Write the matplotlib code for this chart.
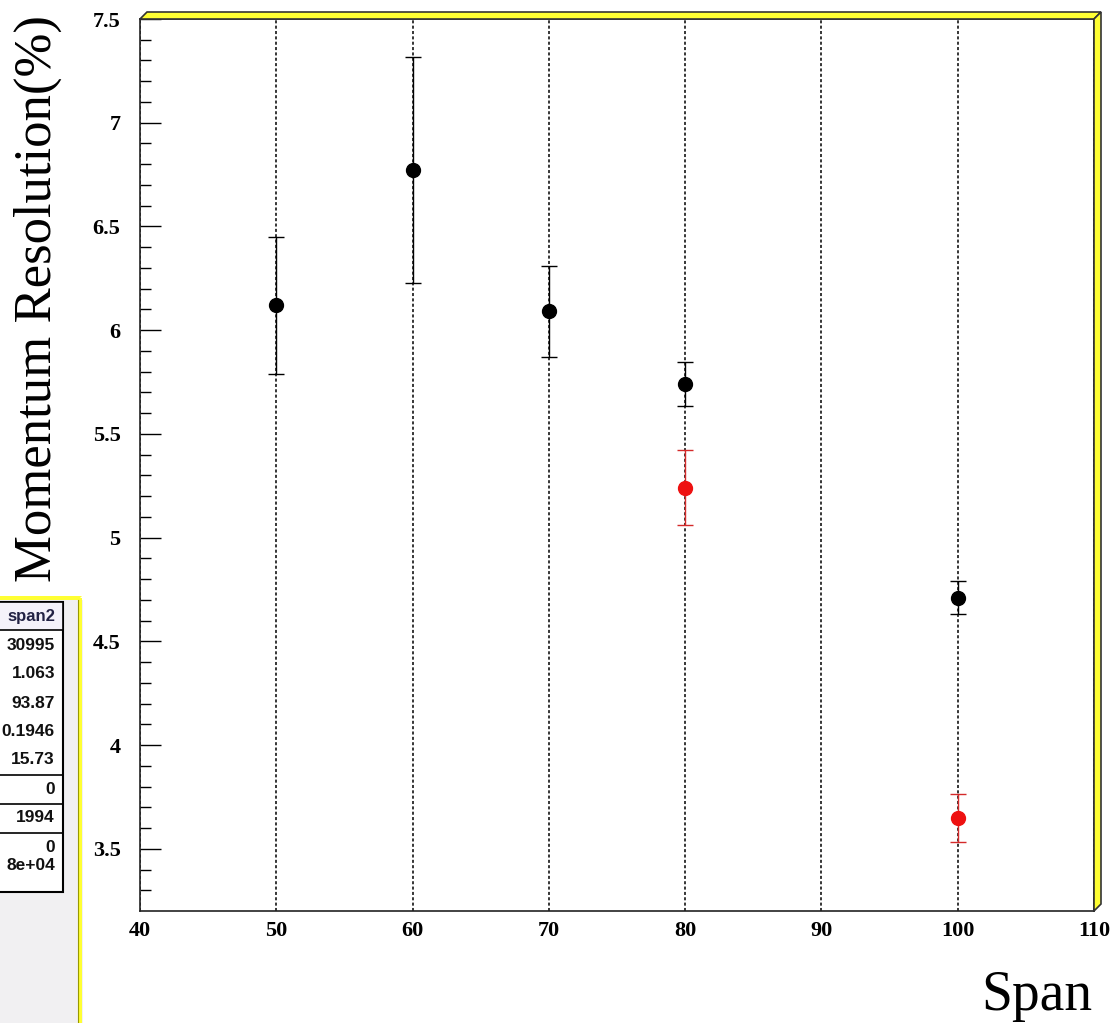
import matplotlib
matplotlib.use('Agg')
import matplotlib.pyplot as plt
from matplotlib.patches import Polygon, Rectangle
from matplotlib.lines import Line2D
import numpy as np

# data
span_black = [50, 60, 70, 80, 100]
res_black = [6.12, 6.77, 6.09, 5.74, 4.71]
err_black = [0.33, 0.545, 0.22, 0.105, 0.08]

span_red = [80, 100]
res_red = [5.24, 3.65]
err_red = [0.18, 0.115]

x_ticks = [40, 50, 60, 70, 80, 90, 100, 110]
y_ticks = [3.5, 4, 4.5, 5, 5.5, 6, 6.5, 7, 7.5]
y_tick_labels = ['3.5', '4', '4.5', '5', '5.5', '6', '6.5', '7', '7.5']

stats_header = 'span2'
stats_values = ['30995', '1.063', '93.87', '0.1946', '15.73', '0', '1994', '0', '8e+04']

W, H = 1115, 1023


def fx(x):
    return x / W


def fy(y):
    return 1 - y / H


fig = plt.figure(figsize=(W / 100, H / 100), dpi=100)
fig.patch.set_facecolor('white')

# frame in pixels
L, R, T, B = 140, 1094, 19, 911
ax = fig.add_axes([fx(L), fy(B), fx(R) - fx(L), fy(T) - fy(B)])
ax.set_xlim(40, 110)
ax.set_ylim(3.2, 7.5)

ax.errorbar(span_black, res_black, yerr=err_black, fmt='o', color='black',
            ms=10, elinewidth=1, capsize=5.5, capthick=1, zorder=5)
ax.errorbar(span_red, res_red, yerr=err_red, fmt='o', color='#e41a1c',
            mfc='#ee1111', mec='#ee1111', ecolor='#d42a2a',
            ms=10, elinewidth=1, capsize=5.5, capthick=1, zorder=5)

ax.set_xticks(x_ticks)
ax.set_yticks(y_ticks)
ax.set_yticklabels(y_tick_labels)
ax.set_yticks(np.arange(3.3, 7.5, 0.1), minor=True)
ax.tick_params(axis='y', which='major', direction='in', length=15, width=1, pad=14)
ax.tick_params(axis='y', which='minor', direction='in', length=8, width=1)
ax.tick_params(axis='x', which='major', direction='in', length=0, pad=7)
ax.tick_params(top=False, right=False)
for lab in ax.get_xticklabels() + ax.get_yticklabels():
    lab.set_family('Liberation Serif')
    lab.set_fontweight('bold')
    lab.set_fontsize(16)

ax.grid(axis='x', color='black', linestyle=(0, (2, 1.5)), linewidth=1.1)
for s in ax.spines.values():
    s.set_color('#222222')
    s.set_linewidth(1.2)

# 3D yellow border on top and right of the frame
d = 7
top_band = Polygon([(fx(L), fy(T)), (fx(R), fy(T)), (fx(R + d), fy(T - d)), (fx(L + d), fy(T - d))],
                   closed=True, facecolor='#ffff33', edgecolor='#333333', lw=1.2,
                   transform=fig.transFigure)
right_band = Polygon([(fx(R), fy(T)), (fx(R), fy(B)), (fx(R + d), fy(B - d)), (fx(R + d), fy(T - d))],
                     closed=True, facecolor='#ffff33', edgecolor='#333333', lw=1.2,
                     transform=fig.transFigure)
fig.patches.extend([top_band, right_band])

# axis titles
fig.text(fx(38), fy(298), 'Momentum Resolution(%)', rotation=90, ha='center', va='center',
         family='Liberation Serif', fontsize=38)
fig.text(fx(1092), fy(1010), 'Span', ha='right', va='baseline',
         family='Liberation Serif', fontsize=40)

# stats box, mostly cut off on the left
panel = Rectangle((fx(-5), fy(1030)), fx(83) - fx(-5), fy(600) - fy(1030),
                  facecolor='#f1f0f2', edgecolor='none', transform=fig.transFigure)
fig.patches.append(panel)
fig.patches.append(Polygon([(fx(-5), fy(600)), (fx(78), fy(600)), (fx(82), fy(596)), (fx(-5), fy(596))],
                           closed=True, facecolor='#ffff33', edgecolor='none', transform=fig.transFigure))
fig.patches.append(Rectangle((fx(78), fy(1030)), fx(82) - fx(78), fy(598) - fy(1030),
                             facecolor='#ffff33', edgecolor='none', transform=fig.transFigure))
fig.lines.append(Line2D([fx(78), fx(78)], [fy(600), fy(1030)], color='#999900', lw=0.8,
                        transform=fig.transFigure))
# table
fig.patches.append(Rectangle((fx(-5), fy(892)), fx(63) - fx(-5), fy(602) - fy(892),
                             facecolor='white', edgecolor='black', lw=1.5, transform=fig.transFigure))
fig.patches.append(Rectangle((fx(-5), fy(630)), fx(63) - fx(-5), fy(602) - fy(630),
                             facecolor='#f4f2fa', edgecolor='black', lw=1.2, transform=fig.transFigure))
for yl in [775, 804, 833]:
    fig.lines.append(Line2D([fx(-5), fx(63)], [fy(yl), fy(yl)], color='black', lw=1.2,
                            transform=fig.transFigure))

fig.text(fx(55), fy(616), stats_header, ha='right', va='center', family='Liberation Sans',
         fontweight='bold', fontsize=12, color='#222244')
row_y = [645, 674, 703, 732, 760, 789, 818, 847, 866]
for v, yy in zip(stats_values, row_y):
    fig.text(fx(55), fy(yy), v, ha='right', va='center', family='Liberation Sans',
             fontweight='bold', fontsize=12.5, color='#111111')

fig.savefig('out.png', dpi=100)
